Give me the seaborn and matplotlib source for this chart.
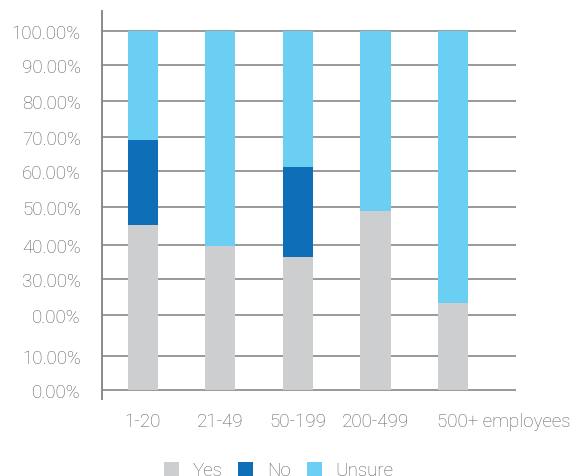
import numpy as np
import pandas as pd
import matplotlib
matplotlib.use("Agg")
import matplotlib.pyplot as plt
import matplotlib.transforms as mtransforms
from matplotlib.patches import Patch
import seaborn as sns

# ---- data ----
categories = ["1-20", "21-49", "50-199", "200-499", "500+ employees"]
yes_vals = [45.3, 39.8, 36.6, 48.9, 23.4]
no_vals = [23.7, 0.0, 24.5, 0.0, 0.0]
unsure_vals = [100 - y - n for y, n in zip(yes_vals, no_vals)]
series_names = ["Yes", "No", "Unsure"]
tick_values = [0, 10, 20, 30, 40, 50, 60, 70, 80, 90, 100]
tick_labels = ["0.00%", "10.00%", "0.00%", "30.00%", "40.00%", "50.00%",
               "60.00%", "70.00%", "80.00%", "90.00%", "100.00%"]

# ---- style ----
c_yes, c_no, c_unsure = "#CDCED0", "#0E6EB8", "#6BCFF4"
text_color = "#5e5e5e"
grid_color = "#7d7d7d"
FONT = ["Roboto", "DejaVu Sans"]
FW = "light"
FS = 13.5

sns.set_theme(style="white")
plt.rcParams["font.family"] = FONT
plt.rcParams["font.weight"] = FW

# uneven gridline spacing of the original drawing (scale positions)
grid_pos = np.array([0, 34, 74.7, 110.7, 144.7, 183.3, 219.3, 253.3, 289.3, 325.3, 359.3])
gv = np.array(tick_values, dtype=float)
slope = 3.4


def forward(v):
    v = np.asarray(v, dtype=float)
    out = np.interp(v, gv, grid_pos)
    out = np.where(v < 0, v * slope, out)
    out = np.where(v > 100, grid_pos[-1] + (v - 100) * slope, out)
    return out


def inverse(u):
    u = np.asarray(u, dtype=float)
    out = np.interp(u, grid_pos, gv)
    out = np.where(u < 0, u / slope, out)
    out = np.where(u > grid_pos[-1], 100 + (u - grid_pos[-1]) / slope, out)
    return out


W, H = 571, 477
fig = plt.figure(figsize=(W / 100, H / 100), dpi=100)
ax = fig.add_axes([101.7 / W, (H - 400) / H, (516 - 101.7) / W, (400 - 12) / H])

df = pd.DataFrame({
    "cat": categories,
    "yes": yes_vals,
    "yes_no": [y + n for y, n in zip(yes_vals, no_vals)],
    "total": [y + n + u for y, n, u in zip(yes_vals, no_vals, unsure_vals)],
})

bw = 30 / 77.6
sns.barplot(data=df, x="cat", y="total", color=c_unsure, saturation=1, width=bw, ax=ax, zorder=2)
sns.barplot(data=df, x="cat", y="yes_no", color=c_no, saturation=1, width=bw, ax=ax, zorder=2)
sns.barplot(data=df, x="cat", y="yes", color=c_yes, saturation=1, width=bw, ax=ax, zorder=2)
for p in ax.patches:
    p.set_linewidth(0)

ax.set_yscale("function", functions=(forward, inverse))
ax.set_ylim(inverse(-9), inverse(379))
ax.set_xlim((101.7 - 142.7) / 77.6, (516 - 142.7) / 77.6)

ax.set_yticks(tick_values)
ax.set_yticklabels(tick_labels)
ax.yaxis.set_minor_locator(matplotlib.ticker.NullLocator())
ax.set_xlabel("")
ax.set_ylabel("")

ax.yaxis.grid(True, color=grid_color, linewidth=1.1, zorder=0)
ax.xaxis.grid(False)
ax.set_axisbelow(True)

for s in ["top", "right", "bottom"]:
    ax.spines[s].set_visible(False)
ax.spines["left"].set_color("#8a8a8a")
ax.spines["left"].set_linewidth(1.4)

ax.tick_params(axis="y", length=1.5, width=1.1, color=grid_color, pad=13.5,
               labelsize=FS, labelcolor=text_color)
ax.tick_params(axis="x", length=0, pad=9.5, labelsize=FS, labelcolor=text_color)
for lab in ax.get_yticklabels() + ax.get_xticklabels():
    lab.set_fontweight(FW)

# last category label is left-aligned at the bar's left edge
xl = ax.get_xticklabels()
xl[-1].set_horizontalalignment("left")
xl[-1].set_transform(xl[-1].get_transform() +
                     mtransforms.ScaledTranslation(-16 / 100, 0, fig.dpi_scale_trans))

handles = [Patch(facecolor=c, edgecolor="none") for c in (c_yes, c_no, c_unsure)]
leg = fig.legend(handles, series_names, loc="center", ncol=3,
                 bbox_to_anchor=(278.5 / W, 1 - 471.5 / H), frameon=False,
                 handlelength=0.8, handleheight=0.8, handletextpad=0.72,
                 columnspacing=0.85, fontsize=FS, borderpad=0, borderaxespad=0)
for t in leg.get_texts():
    t.set_color(text_color)
    t.set_fontweight(FW)

fig.savefig("out.png", dpi=100)
